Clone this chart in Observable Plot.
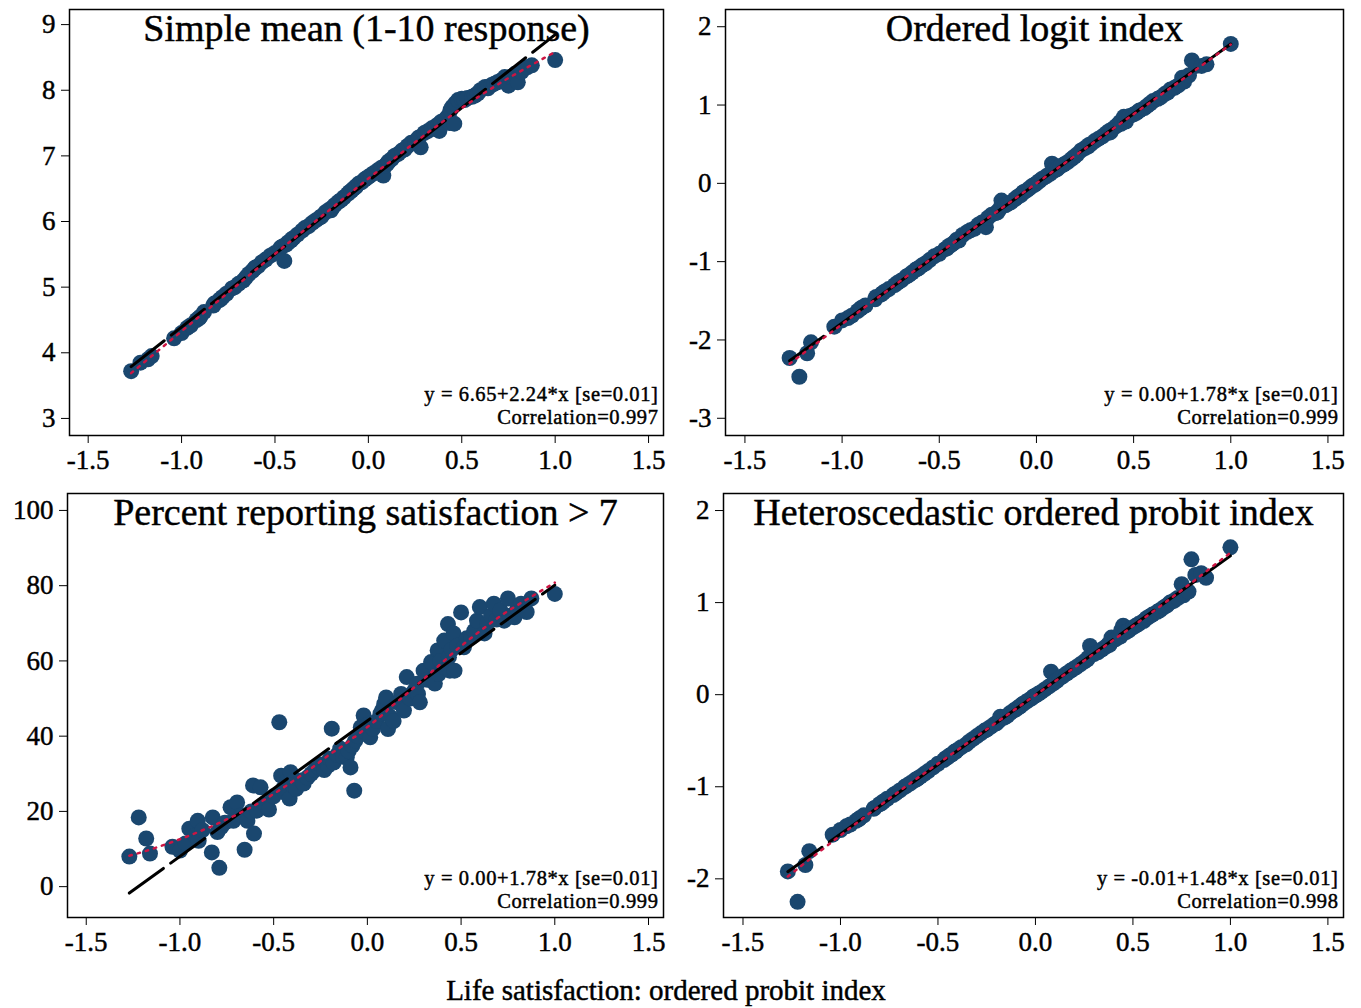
<!DOCTYPE html>
<html>
<head>
<meta charset="utf-8">
<script src="https://cdn.jsdelivr.net/npm/d3@7"></script>
<script src="https://cdn.jsdelivr.net/npm/@observablehq/plot@0.6"></script>
<style>
  html, body { margin: 0; padding: 0; background: #fff; }
  #wrap { position: relative; width: 1361px; height: 1008px; background: #fff; font-family: "Liberation Serif", "Times New Roman", serif; }
  .panel { position: absolute; }
  .panel svg text { stroke: #000; stroke-width: 0.45px; }
  .panel svg g[font-size="20.5"] text { letter-spacing: 0.6px; }
  #xlabel { position: absolute; left: 0; width: 1332px; top: 974px; text-align: center; font-size: 29px; color: #000; -webkit-text-stroke: 0.45px #000; }
</style>
</head>
<body>
<div id="wrap">
  <div class="panel" id="p1" style="left:0;top:0"></div>
  <div class="panel" id="p2" style="left:680px;top:0"></div>
  <div class="panel" id="p3" style="left:0;top:480px"></div>
  <div class="panel" id="p4" style="left:680px;top:480px"></div>
  <div id="xlabel">Life satisfaction: ordered probit index</div>
</div>
<script>
// Life satisfaction: ordered probit index (shared x for all panels)
const probitIndex = [
  -1.27,-1.22,-1.18,-1.16,-1.04,-1.00,-0.97,-0.95,-0.92,-0.905,
  -0.90,-0.88,-0.83,-0.825,-0.80,-0.79,-0.78,-0.76,-0.73,-0.715,
  -0.695,-0.67,-0.655,-0.64,-0.62,-0.61,-0.605,-0.59,-0.57,-0.55,
  -0.525,-0.50,-0.47,-0.46,-0.45,-0.44,-0.43,-0.415,-0.41,-0.40,
  -0.38,-0.355,-0.34,-0.32,-0.30,-0.28,-0.26,-0.25,-0.23,-0.21,
  -0.20,-0.19,-0.18,-0.16,-0.145,-0.13,-0.11,-0.10,-0.09,-0.08,
  -0.07,-0.065,-0.05,-0.035,-0.02,-0.01,0.00,0.015,0.03,0.05,
  0.07,0.08,0.09,0.10,0.105,0.11,0.125,0.14,0.16,0.18,
  0.195,0.21,0.23,0.25,0.265,0.27,0.28,0.30,0.32,0.34,
  0.36,0.375,0.38,0.39,0.41,0.42,0.43,0.435,0.44,0.45,
  0.46,0.465,0.48,0.50,0.515,0.53,0.555,0.57,0.585,0.60,
  0.625,0.64,0.66,0.675,0.69,0.71,0.73,0.75,0.76,0.785,
  0.80,0.82,0.85,0.875,1.00
];
// Simple mean (1-10 response)
const simpleMean = [
  3.72,3.85,3.90,3.95,4.22,4.30,4.38,4.42,4.50,4.53,
  4.55,4.62,4.72,4.75,4.80,4.82,4.85,4.90,4.98,5.00,
  5.05,5.10,5.15,5.20,5.25,5.28,5.30,5.32,5.38,5.42,
  5.48,5.52,5.60,5.62,5.40,5.65,5.68,5.71,5.73,5.75,
  5.80,5.86,5.90,5.93,5.98,6.02,6.06,6.08,6.14,6.18,
  6.17,6.22,6.25,6.30,6.33,6.37,6.42,6.45,6.47,6.50,
  6.52,6.54,6.58,6.60,6.64,6.66,6.68,6.71,6.74,6.78,
  6.82,6.70,6.85,6.88,6.90,6.92,6.95,7.00,7.03,7.08,
  7.10,7.15,7.20,7.22,7.26,7.28,7.13,7.35,7.38,7.42,
  7.45,7.48,7.38,7.52,7.55,7.58,7.62,7.50,7.70,7.75,
  7.49,7.80,7.85,7.87,7.85,7.88,7.90,7.92,7.95,8.00,
  8.05,8.03,8.08,8.10,8.12,8.15,8.20,8.07,8.20,8.25,
  8.12,8.28,8.35,8.38,8.46
];
// Ordered logit index
const ologitIndex = [
  -2.23,-2.47,-2.17,-2.03,-1.83,-1.75,-1.72,-1.69,-1.63,-1.60,
  -1.59,-1.56,-1.48,-1.45,-1.42,-1.40,-1.38,-1.35,-1.30,-1.27,
  -1.24,-1.19,-1.17,-1.14,-1.10,-1.09,-1.08,-1.05,-1.02,-0.98,
  -0.93,-0.90,-0.84,-0.83,-0.80,-0.79,-0.77,-0.74,-0.72,-0.73,
  -0.66,-0.62,-0.60,-0.58,-0.53,-0.50,-0.56,-0.44,-0.40,-0.38,
  -0.37,-0.33,-0.22,-0.28,-0.26,-0.24,-0.20,-0.18,-0.16,-0.15,
  -0.12,-0.11,-0.09,-0.06,-0.03,-0.02,0.00,0.03,0.06,0.09,
  0.12,0.25,0.16,0.20,0.18,0.19,0.22,0.24,0.27,0.31,
  0.34,0.37,0.42,0.45,0.47,0.49,0.50,0.54,0.57,0.60,
  0.64,0.67,0.65,0.69,0.73,0.75,0.78,0.76,0.80,0.85,
  0.79,0.83,0.86,0.88,0.90,0.93,0.96,0.99,1.02,1.05,
  1.08,1.10,1.14,1.16,1.20,1.22,1.25,1.35,1.30,1.38,
  1.57,1.50,1.50,1.52,1.78
];
// Percent reporting satisfaction > 7
const pctSatisfied = [
  8.0,18.4,12.8,8.8,10.6,9.6,11.5,15.4,13.5,17.5,
  12.2,15.0,9.1,18.4,14.5,5.0,15.8,17.0,21.1,17.5,
  22.4,19.0,9.8,17.5,20.0,26.9,14.1,20.2,26.4,22.0,
  20.5,24.0,43.7,29.5,26.0,25.0,28.0,23.4,30.4,27.0,
  26.0,28.2,27.4,29.0,30.0,31.0,31.7,32.5,31.0,32.2,
  34.0,42.0,33.0,35.0,36.7,34.5,34.4,36.0,31.7,37.5,
  25.5,38.8,40.0,42.4,45.5,41.0,43.0,39.7,42.0,44.0,
  46.0,47.0,48.6,50.3,46.0,41.9,45.0,44.0,49.0,51.2,
  46.8,55.7,50.0,52.0,53.9,51.2,49.0,57.4,55.0,59.7,
  54.0,62.8,56.5,60.0,65.4,58.0,69.8,61.0,57.4,63.0,
  67.3,57.4,64.0,72.9,63.6,66.0,66.3,68.0,70.7,74.3,
  67.3,70.0,72.0,75.2,71.0,73.4,70.7,76.6,72.0,71.6,
  74.0,75.2,73.0,76.6,77.8
];
// Heteroscedastic ordered probit index
const hetProbitIndex = [
  -1.92,-2.25,-1.85,-1.70,-1.52,-1.47,-1.43,-1.41,-1.37,-1.35,
  -1.34,-1.31,-1.24,-1.23,-1.19,-1.18,-1.16,-1.13,-1.09,-1.07,
  -1.04,-1.00,-0.98,-0.96,-0.93,-0.92,-0.91,-0.89,-0.86,-0.83,
  -0.79,-0.75,-0.71,-0.69,-0.68,-0.66,-0.65,-0.62,-0.62,-0.60,
  -0.57,-0.54,-0.51,-0.48,-0.45,-0.42,-0.39,-0.38,-0.35,-0.32,
  -0.31,-0.29,-0.24,-0.25,-0.23,-0.20,-0.17,-0.16,-0.14,-0.13,
  -0.11,-0.10,-0.08,-0.06,-0.04,-0.02,-0.01,0.01,0.03,0.06,
  0.09,0.25,0.12,0.14,0.15,0.15,0.18,0.20,0.23,0.26,
  0.28,0.30,0.33,0.36,0.38,0.40,0.53,0.44,0.46,0.49,
  0.52,0.55,0.54,0.62,0.60,0.62,0.64,0.63,0.70,0.75,
  0.68,0.68,0.70,0.73,0.75,0.77,0.80,0.83,0.85,0.87,
  0.90,0.92,0.95,0.97,1.00,1.02,1.05,1.20,1.08,1.12,
  1.47,1.30,1.32,1.27,1.60
];

const panelTitles = ["Simple mean (1-10 response)", "Ordered logit index", "Percent reporting satisfaction > 7", "Heteroscedastic ordered probit index"];
const equations = ["y = 6.65+2.24*x [se=0.01]", "y = 0.00+1.78*x [se=0.01]", "y = 0.00+1.78*x [se=0.01]", "y = -0.01+1.48*x [se=0.01]"];
const correlations = ["Correlation=0.997", "Correlation=0.999", "Correlation=0.999", "Correlation=0.998"];
const xTicks = [-1.5, -1.0, -0.5, 0.0, 0.5, 1.0, 1.5];
const yTicks1 = [3, 4, 5, 6, 7, 8, 9];
const yTicks2 = [-3, -2, -1, 0, 1, 2];
const yTicks3 = [0, 20, 40, 60, 80, 100];
const yTicks4 = [-2, -1, 0, 1, 2];

const FONT = "'Liberation Serif', 'Times New Roman', serif";
const NAVY = "#1a476f";
const RED = "#cc1543";

// Stata-style lowess (bwidth 0.8, tricube weights, local linear)
function lowess(xs, ys, bw = 0.8) {
  const idx = d3.range(xs.length).sort((a, b) => xs[a] - xs[b]);
  const X = idx.map(i => xs[i]), Y = idx.map(i => ys[i]);
  const n = X.length;
  const k = Math.floor((n * bw - 0.5) / 2);
  return X.map((x0, i) => {
    const lo = Math.max(0, i - k), hi = Math.min(n - 1, i + k);
    const delta = 1.0001 * Math.max(X[hi] - x0, x0 - X[lo]) || 1e-9;
    let sw = 0, swx = 0, swy = 0, swxx = 0, swxy = 0;
    for (let j = lo; j <= hi; j++) {
      const u = Math.abs(X[j] - x0) / delta;
      const w = u < 1 ? Math.pow(1 - u * u * u, 3) : 0;
      sw += w; swx += w * X[j]; swy += w * Y[j]; swxx += w * X[j] * X[j]; swxy += w * X[j] * Y[j];
    }
    const mx = swx / sw, my = swy / sw;
    const vx = swxx / sw - mx * mx;
    const b = vx > 1e-12 ? (swxy / sw - mx * my) / vx : 0;
    return {x: x0, y: my + b * (x0 - mx)};
  });
}

function panel(el, ys, cfg) {
  const data = probitIndex.map((x, i) => ({x, y: ys[i]}));
  const smooth = lowess(probitIndex, ys);
  const chart = Plot.plot({
    width: cfg.width, height: 480,
    marginLeft: cfg.ml, marginRight: cfg.mr, marginTop: cfg.mt, marginBottom: cfg.mb,
    style: {fontFamily: FONT, fontSize: "27px", color: "#000", background: "#fff", overflow: "visible"},
    x: {domain: [-1.6, 1.58], ticks: xTicks, tickFormat: d => d.toFixed(1), tickSize: 8, tickPadding: 6, label: null},
    y: {domain: cfg.ydomain, ticks: cfg.yticks, tickFormat: d => String(d), tickSize: 8, tickPadding: 6, label: null},
    marks: [
      Plot.dot(data, {x: "x", y: "y", r: 8, fill: NAVY, stroke: "none"}),
      Plot.linearRegressionY(data, {x: "x", y: "y", ci: 0, stroke: "#000", strokeWidth: 3, strokeDasharray: "42,9"}),
      Plot.line(smooth, {x: "x", y: "y", stroke: RED, strokeWidth: 2.5, strokeDasharray: "2.5,6"}),
      Plot.frame({stroke: "#000", strokeWidth: 1.5}),
      Plot.text([cfg.title], {frameAnchor: "top", dy: 19, lineAnchor: "middle", fontSize: 38, fill: "#000"}),
      Plot.text([cfg.eq], {frameAnchor: "bottom-right", dx: -5, dy: cfg.eqdy - 11.5, lineAnchor: "middle", textAnchor: "end", fontSize: 20.5, fill: "#000"}),
      Plot.text([cfg.corr], {frameAnchor: "bottom-right", dx: -5, dy: cfg.eqdy + 11.5, lineAnchor: "middle", textAnchor: "end", fontSize: 20.5, fill: "#000"})
    ]
  });
  document.getElementById(el).appendChild(chart);
}

panel("p1", simpleMean, {width: 680, ml: 69, mr: 17, mt: 9, mb: 45, ydomain: [2.74, 9.23], yticks: yTicks1, title: panelTitles[0], eq: equations[0], corr: correlations[0], eqdy: -29.5});
panel("p2", ologitIndex, {width: 681, ml: 45, mr: 18, mt: 9, mb: 45, ydomain: [-3.22, 2.22], yticks: yTicks2, title: panelTitles[1], eq: equations[1], corr: correlations[1], eqdy: -29.5});
panel("p3", pctSatisfied, {width: 680, ml: 67, mr: 17, mt: 13, mb: 43, ydomain: [-8.2, 104.5], yticks: yTicks3, title: panelTitles[2], eq: equations[2], corr: correlations[2], eqdy: -27.5});
panel("p4", hetProbitIndex, {width: 681, ml: 43, mr: 18, mt: 13, mb: 43, ydomain: [-2.42, 2.185], yticks: yTicks4, title: panelTitles[3], eq: equations[3], corr: correlations[3], eqdy: -27.5});
</script>
</body>
</html>
